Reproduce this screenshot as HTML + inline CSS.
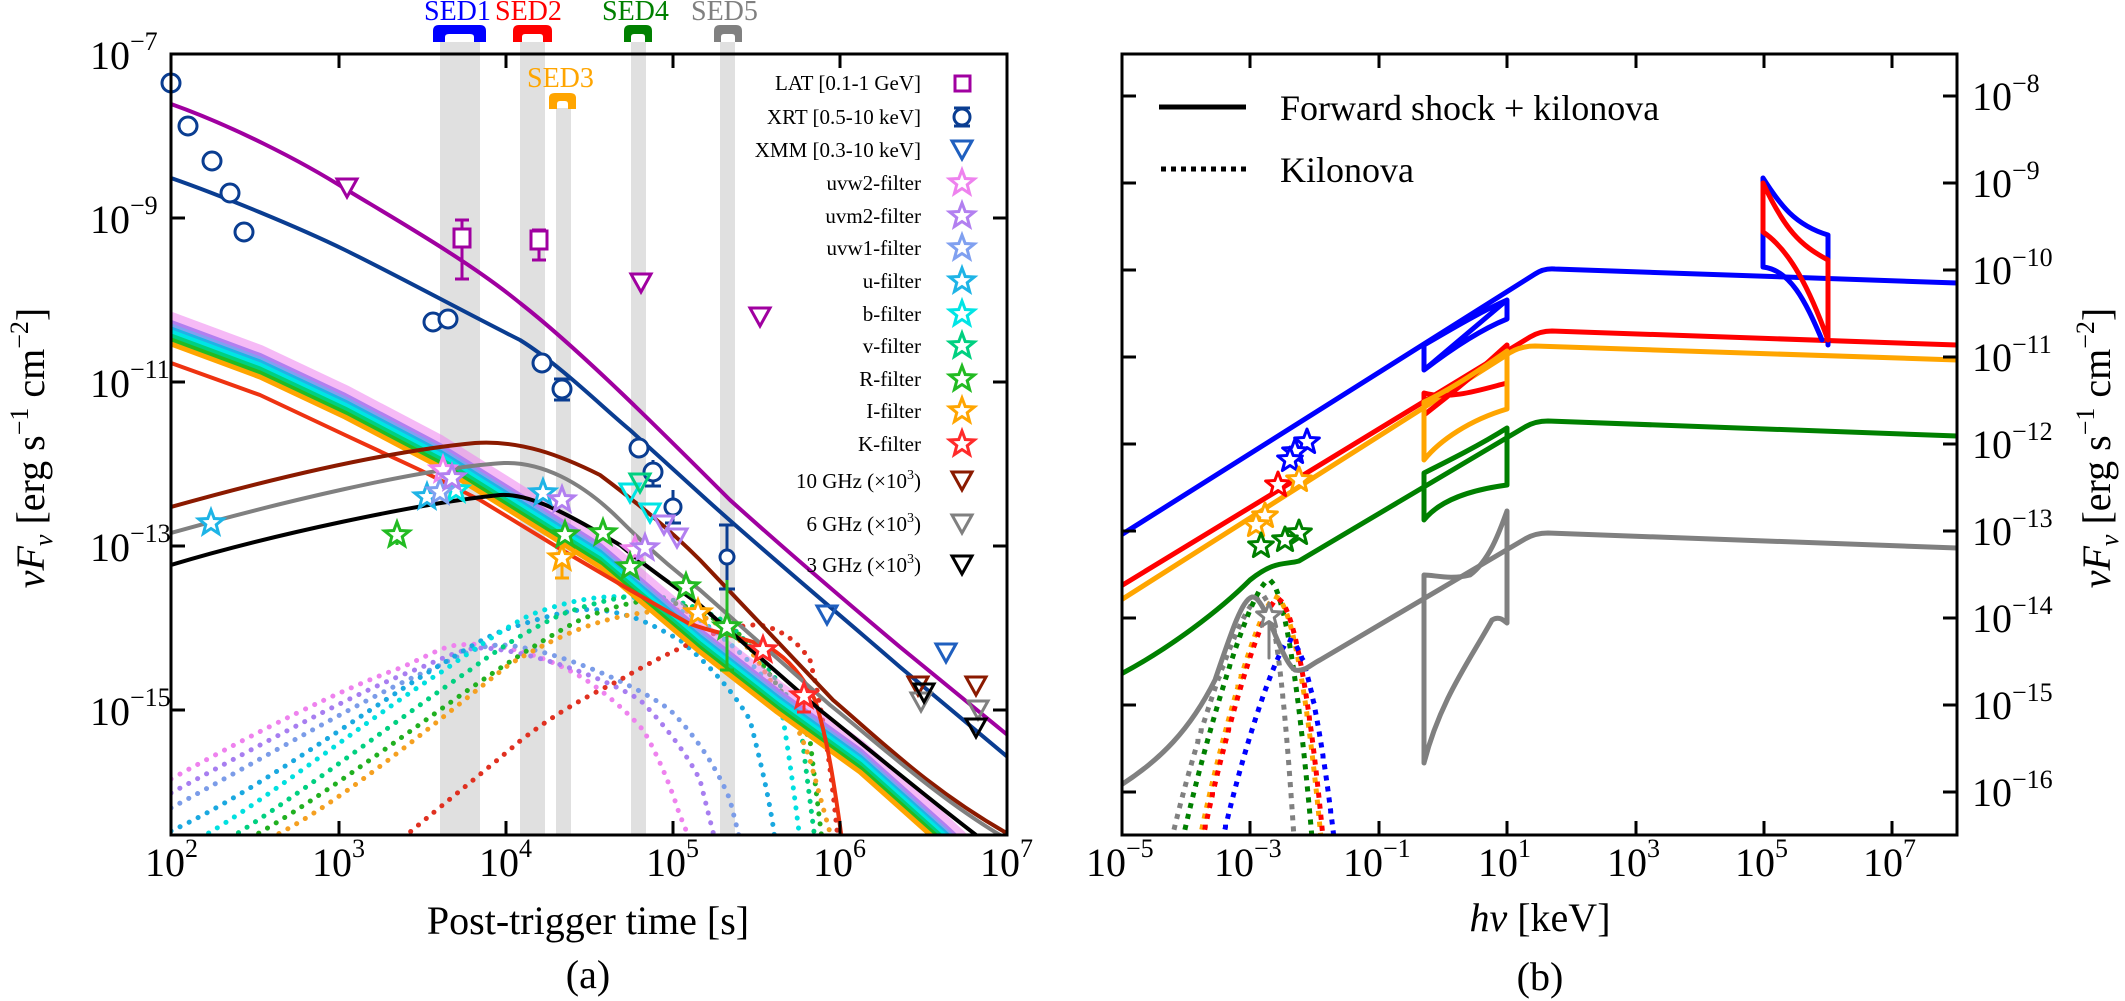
<!DOCTYPE html>
<html><head><meta charset="utf-8"><style>
html,body{margin:0;padding:0;background:#fff;}
svg{display:block;font-family:"Liberation Serif",serif;}
</style></head><body>
<svg width="2125" height="1001" viewBox="0 0 2125 1001" xmlns="http://www.w3.org/2000/svg">
<defs>
<clipPath id="cl"><rect x="171" y="54" width="836" height="781"/></clipPath>
<clipPath id="cr"><rect x="1122" y="54" width="835" height="781"/></clipPath>
<path id="st" d="M0,-13 L3.23,-4.45 L12.36,-4.02 L5.23,1.7 L7.64,10.52 L0,5.5 L-7.64,10.52 L-5.23,1.7 L-12.36,-4.02 L-3.23,-4.45Z"/>
<path id="tri" d="M-10,-9 L10,-9 L0,9 Z"/>
<path id="bund" d="M171,332 L260,365 L345,405 L440,455 L520,505 L600,555 L700,640 L777,700 L860,760 L944,835 L960,850"/>
</defs>

<g fill="#e0e0e0">
<rect x="440" y="42" width="40" height="793"/>
<rect x="520" y="42" width="25" height="793"/>
<rect x="556" y="108" width="15" height="727"/>
<rect x="631" y="42" width="15" height="793"/>
<rect x="720" y="42" width="15" height="793"/>
</g>
<g>
<path d="M433,42 L433,31 Q433,25 439,25 L480,25 Q486,25 486,31 L486,42 L474,42 L474,37 Q474,34 470,34 L449,34 Q445,34 445,37 L445,42Z" fill="#0000ff"/>
<path d="M513,42 L513,31 Q513,25 519,25 L546,25 Q552,25 552,31 L552,42 L543,42 L543,37 Q543,34 540,34 L525,34 Q522,34 522,37 L522,42Z" fill="#ff0000"/>
<path d="M549,109 L549,98 Q549,93 555,93 L570,93 Q576,93 576,98 L576,109 L568,109 L568,104 Q568,101 565,101 L560,101 Q557,101 557,104 L557,109Z" fill="#ffa500"/>
<path d="M624,42 L624,31 Q624,25 630,25 L646,25 Q652,25 652,31 L652,42 L645,42 L645,37 Q645,34 642,34 L634,34 Q631,34 631,37 L631,42Z" fill="#008000"/>
<path d="M714,42 L714,31 Q714,25 720,25 L736,25 Q742,25 742,31 L742,42 L735,42 L735,37 Q735,34 732,34 L724,34 Q721,34 721,37 L721,42Z" fill="#808080"/>
</g>
<g font-size="28">
<text x="424" y="20" fill="#0000ff">SED1</text>
<text x="495" y="20" fill="#ff0000">SED2</text>
<text x="602" y="20" fill="#008000">SED4</text>
<text x="691" y="20" fill="#808080">SED5</text>
<text x="527" y="87" fill="#ffa500">SED3</text>
</g>

<g clip-path="url(#cl)" fill="none" stroke-linejoin="round" stroke-linecap="round">
<g stroke-width="5" stroke-dasharray="0.1 10">
<path stroke="#ee82ee" d="M171,779 C260,730 340,690 400,668 C430,655 445,645 460,645 C500,640 560,660 596,687 C620,705 640,725 645,733 C660,760 672,790 679,813 L690,840"/>
<path stroke="#a77ef0" d="M171,793 C260,745 360,690 420,668 C450,655 465,648 480,648 C520,648 600,675 640,700 C670,730 690,760 700,780 L715,840"/>
<path stroke="#7b9ce8" d="M171,808 C260,760 380,690 430,670 C460,655 480,645 500,645 C540,645 630,680 670,710 C700,740 720,775 730,800 L740,840"/>
<path stroke="#1aa8e0" d="M171,831 C260,790 380,700 447,661 C480,640 500,630 520,625 C560,612 580,608 600,610 C640,615 660,630 680,640 C715,670 735,695 750,720 C760,760 770,800 775,840"/>
<path stroke="#00e0e0" d="M200,838 C260,805 380,710 443,671 C480,645 510,625 530,615 C570,600 600,595 630,597 C660,600 680,610 700,620 C740,650 765,675 780,700 C790,760 795,800 800,840"/>
<path stroke="#00d080" d="M230,838 C300,795 410,710 470,670 C510,640 540,625 560,615 C600,600 630,595 650,595 C680,600 710,612 730,625 C765,660 785,690 800,720 C806,770 810,800 815,840"/>
<path stroke="#20b020" d="M250,838 C320,800 430,715 490,675 C530,648 560,630 580,620 C615,605 640,600 660,600 C690,605 720,620 740,635 C775,680 795,710 810,740 L822,840"/>
<path stroke="#f5a020" d="M270,838 C340,805 450,710 510,664 C550,640 580,628 600,622 C630,613 660,610 680,610 C710,615 735,635 750,650 C785,700 800,730 810,760 L832,840"/>
<path stroke="#e03020" d="M403,838 C430,815 480,775 520,741 C560,710 590,695 620,680 C650,662 680,648 698,640 C720,630 745,624 760,625 C785,630 800,645 810,660 C825,720 832,780 838,840"/>
</g>
<use href="#bund" stroke="#ee82ee" stroke-width="14" opacity="0.55" transform="translate(0,-13)"/>
<use href="#bund" stroke="#b27ff0" stroke-width="6" transform="translate(0,-9)"/>
<use href="#bund" stroke="#80a0f0" stroke-width="5" transform="translate(0,-6)"/>
<use href="#bund" stroke="#1eb4e6" stroke-width="5" transform="translate(0,-3)"/>
<use href="#bund" stroke="#00e5e5" stroke-width="5" transform="translate(0,0)"/>
<use href="#bund" stroke="#00d080" stroke-width="5" transform="translate(0,4)"/>
<use href="#bund" stroke="#22bb22" stroke-width="5" transform="translate(0,8)"/>
<use href="#bund" stroke="#ffa500" stroke-width="5" transform="translate(0,12)"/>
<path stroke="#ee3311" stroke-width="4" d="M171,363 L260,395 L345,435 L420,470 L480,500 L562,550 L630,590 L688,623 C710,632 740,636 770,648 C790,660 805,680 815,700 C828,740 835,790 842,840"/>
<path stroke="#8b1a00" stroke-width="4" d="M171,507 C260,482 380,452 475,443 C520,440 560,455 600,475 C640,505 670,530 700,560 L833,700 C880,740 930,790 1010,835"/>
<path stroke="#808080" stroke-width="4" d="M171,533 C270,505 420,468 504,463 C540,462 580,480 620,520 C650,550 680,575 700,590 L830,705 C880,745 940,800 1005,838"/>
<path stroke="#000" stroke-width="4" d="M171,565 C270,535 420,503 500,495 C530,493 570,515 620,545 C650,570 680,590 700,605 L820,710 C870,750 930,800 980,838"/>
<path stroke="#a000a0" stroke-width="4" d="M171,104 C230,125 300,160 347,190 C400,222 470,262 520,303 C580,350 660,430 730,500 C780,545 850,605 900,647 L1010,737"/>
<path stroke="#0a3d91" stroke-width="4" d="M171,178 C220,195 300,228 345,250 C400,277 470,315 520,340 C560,365 600,405 630,430 L707,500 C760,548 840,615 900,667 L1010,759"/>
</g>

<g fill="none" stroke-width="3">
<g stroke="#0a3d91" fill="#fff">
<circle cx="171" cy="83" r="9"/><circle cx="188" cy="126" r="9"/><circle cx="212" cy="161" r="9"/><circle cx="230" cy="193" r="9"/><circle cx="244" cy="232" r="9"/>
<circle cx="433" cy="322" r="9"/><circle cx="448" cy="319" r="9"/><circle cx="542" cy="363" r="9"/>
<path d="M562,379 V400 M554,379 H570 M554,400 H570"/><circle cx="562" cy="389" r="9"/>
<path d="M639,438 V458 M653,460 V486 M645,486 H661"/><circle cx="639" cy="448" r="9"/><circle cx="653" cy="472" r="9"/>
<path d="M673,490 V523 M665,523 H681"/><circle cx="673" cy="507" r="8"/>
<path d="M727,525 V589 M719,525 H735 M719,589 H735"/><circle cx="727" cy="557" r="7"/>
</g>
<g stroke="#a000a0" fill="#fff">
<path d="M462,220 V279 M455,220 H469 M455,279 H469"/><rect x="454" y="229" width="16" height="18"/>
<path d="M539,230 V260 M532,230 H546 M532,260 H546"/><rect x="531" y="231" width="16" height="18"/>
<use href="#tri" x="347" y="188"/><use href="#tri" x="641" y="283"/><use href="#tri" x="760" y="317"/>
</g>
<g stroke="#1f5fbf"><use href="#tri" x="827" y="615"/><use href="#tri" x="946" y="653"/></g>
<g stroke="#8b1a00"><use href="#tri" x="918" y="686"/><use href="#tri" x="976" y="686"/></g>
<g stroke="#808080"><use href="#tri" x="921" y="702"/><use href="#tri" x="978" y="710"/></g>
<g stroke="#000"><use href="#tri" x="924" y="693"/><use href="#tri" x="976" y="728"/></g>
<g stroke="#00e5e5"><use href="#tri" x="630" y="493"/><use href="#tri" x="650" y="513"/></g>
<g stroke="#00d080"><use href="#tri" x="640" y="483"/></g>
<g stroke="#b27ff0"><use href="#tri" x="677" y="538"/><use href="#tri" x="664" y="525"/></g>
<g fill="#fff">
<use href="#st" x="211" y="523" stroke="#1eb4e6"/>
<path d="M397,525 V545" stroke="#22bb22"/><use href="#st" x="397" y="535" stroke="#22bb22"/>
<use href="#st" x="427" y="497" stroke="#1eb4e6"/><use href="#st" x="456" y="490" stroke="#00e5e5"/><use href="#st" x="440" y="492" stroke="#80a0f0"/>
<use href="#st" x="443" y="470" stroke="#ee82ee"/><use href="#st" x="452" y="478" stroke="#b27ff0"/>
<use href="#st" x="543" y="493" stroke="#1eb4e6"/><use href="#st" x="562" y="500" stroke="#b27ff0"/>
<path d="M562,550 V578 M555,578 H569" stroke="#ffa500"/><use href="#st" x="562" y="558" stroke="#ffa500"/>
<use href="#st" x="565" y="535" stroke="#22bb22"/><use href="#st" x="603" y="533" stroke="#22bb22"/>
<use href="#st" x="635" y="550" stroke="#ee82ee"/><use href="#st" x="645" y="548" stroke="#b27ff0"/>
<use href="#st" x="630" y="567" stroke="#22bb22"/><use href="#st" x="686" y="587" stroke="#22bb22"/>
<use href="#st" x="698" y="613" stroke="#ffa500"/>
<path d="M727,580 V670 M720,670 H734" stroke="#22bb22"/><use href="#st" x="727" y="627" stroke="#22bb22"/>
<use href="#st" x="763" y="650" stroke="#ff2a2a"/>
<path d="M804,685 V712 M797,712 H811" stroke="#ff2a2a"/><use href="#st" x="804" y="696" stroke="#ff2a2a"/>
</g>
</g>

<g font-size="21" text-anchor="end" fill="#000">
<text x="921" y="90">LAT [0.1-1 GeV]</text>
<text x="921" y="124">XRT [0.5-10 keV]</text>
<text x="921" y="157">XMM [0.3-10 keV]</text>
<text x="921" y="190">uvw2-filter</text>
<text x="921" y="223">uvm2-filter</text>
<text x="921" y="255">uvw1-filter</text>
<text x="921" y="288">u-filter</text>
<text x="921" y="321">b-filter</text>
<text x="921" y="353">v-filter</text>
<text x="921" y="386">R-filter</text>
<text x="921" y="418">I-filter</text>
<text x="921" y="451">K-filter</text>
<text x="921" y="488">10 GHz (×10<tspan dy="-9" font-size="14">3</tspan><tspan dy="9">)</tspan></text>
<text x="921" y="531">6 GHz (×10<tspan dy="-9" font-size="14">3</tspan><tspan dy="9">)</tspan></text>
<text x="921" y="572">3 GHz (×10<tspan dy="-9" font-size="14">3</tspan><tspan dy="9">)</tspan></text>
</g>
<g fill="#fff" stroke-width="3">
<rect x="955" y="76" width="15" height="15" stroke="#a000a0"/>
<path d="M954,108 H970 M954,126 H970 M962,108 V126" stroke="#0a3d91"/><circle cx="962" cy="117" r="8" stroke="#0a3d91"/>
<use href="#tri" x="962" y="150" stroke="#1f5fbf"/>
<use href="#st" x="962" y="183" stroke="#ee82ee"/>
<use href="#st" x="962" y="216" stroke="#b27ff0"/>
<use href="#st" x="962" y="248" stroke="#80a0f0"/>
<use href="#st" x="962" y="281" stroke="#1eb4e6"/>
<use href="#st" x="962" y="314" stroke="#00e5e5"/>
<use href="#st" x="962" y="346" stroke="#00d080"/>
<use href="#st" x="962" y="379" stroke="#22bb22"/>
<use href="#st" x="962" y="411" stroke="#ffa500"/>
<use href="#st" x="962" y="444" stroke="#ff2a2a"/>
<use href="#tri" x="962" y="481" stroke="#8b1a00"/>
<use href="#tri" x="962" y="524" stroke="#808080"/>
<use href="#tri" x="962" y="565" stroke="#000"/>
</g>

<g stroke="#000" stroke-width="3" fill="none">
<rect x="171" y="54" width="836" height="781"/>
<path d="M339,835 v-14 M506,835 v-14 M673,835 v-14 M840,835 v-14 M339,54 v14 M506,54 v14 M673,54 v14 M840,54 v14"/>
<path d="M171,218 h14 M171,382 h14 M171,546 h14 M171,710 h14 M1007,218 h-14 M1007,382 h-14 M1007,546 h-14 M1007,710 h-14"/>
</g>
<g font-size="40" fill="#000">
<g text-anchor="end">
<text x="130" y="69">10</text><text x="130" y="233">10</text><text x="130" y="397">10</text><text x="130" y="561">10</text><text x="130" y="725">10</text>
</g>
<g font-size="26">
<text x="130" y="50">−7</text><text x="130" y="214">−9</text><text x="130" y="378">−11</text><text x="130" y="542">−13</text><text x="130" y="706">−15</text>
</g>
<g text-anchor="middle">
<text x="165" y="876">10</text><text x="332" y="876">10</text><text x="499" y="876">10</text><text x="666" y="876">10</text><text x="833" y="876">10</text><text x="1000" y="876">10</text>
</g>
<g font-size="26">
<text x="185" y="857">2</text><text x="352" y="857">3</text><text x="519" y="857">4</text><text x="686" y="857">5</text><text x="853" y="857">6</text><text x="1020" y="857">7</text>
</g>
<text x="588" y="934" text-anchor="middle">Post-trigger time [s]</text>
<text x="588" y="988" text-anchor="middle">(a)</text>
<text transform="translate(44,448) rotate(-90)" text-anchor="middle"><tspan font-style="italic">νF</tspan><tspan font-style="italic" font-size="26" dy="8">ν</tspan><tspan dy="-8"> [erg s</tspan><tspan font-size="26" dy="-16">−1</tspan><tspan dy="16"> cm</tspan><tspan font-size="26" dy="-16">−2</tspan><tspan dy="16">]</tspan></text>
</g>

<g clip-path="url(#cr)" fill="none" stroke-linejoin="round" stroke-linecap="round">
<g stroke-width="5" stroke-dasharray="0.1 11" stroke-linecap="square">
<path stroke="#808080" d="M1172,838 C1195,740 1240,600 1262,595 C1275,600 1285,700 1294,838"/>
<path stroke="#008000" d="M1183,838 C1205,740 1250,585 1269,580 C1285,585 1300,700 1312,838"/>
<path stroke="#ffa500" d="M1200,838 C1220,740 1260,600 1276,597 C1292,602 1308,700 1321,838"/>
<path stroke="#ff0000" d="M1203,838 C1223,740 1262,602 1278,599 C1294,604 1310,700 1323,838"/>
<path stroke="#0000ff" d="M1223,838 C1245,740 1280,640 1290,640 C1305,645 1320,720 1334,838"/>
</g>
<g stroke-width="5">
<path stroke="#0000ff" d="M1121,535 L1535,274 Q1544,268 1555,269 L1957,283"/>
<path stroke="#ff0000" d="M1121,586 L1530,337 Q1540,331 1552,331 L1957,345"/>
<path stroke="#ffa500" d="M1121,600 L1505,356 Q1518,346 1535,346 L1957,360"/>
<path stroke="#008000" d="M1121,674 C1170,648 1220,610 1250,580 C1275,560 1285,565 1299,561 L1525,427 Q1535,421 1548,421 L1957,436"/>
<path stroke="#808080" d="M1121,785 C1160,760 1190,730 1215,680 C1232,630 1242,600 1252,597 C1265,595 1280,660 1295,670 C1305,672 1310,665 1320,660 L1525,539 Q1535,533 1548,533 L1957,548"/>
<path stroke="#0000ff" d="M1424,345 L1424,370 C1450,350 1480,330 1507,319 L1507,300 C1480,312 1450,330 1424,345 Z M1424,370 L1507,300"/>
<path stroke="#ff0000" d="M1424,393 L1424,415 C1450,395 1480,370 1507,345 L1507,383 C1480,390 1450,400 1424,393 Z"/>
<path stroke="#ffa500" d="M1424,402 L1424,460 C1440,440 1470,420 1507,409 L1507,351 C1480,370 1450,390 1424,402 Z"/>
<path stroke="#008000" d="M1424,473 L1424,520 C1440,500 1470,490 1507,485 L1507,428 C1480,445 1450,460 1424,473 Z"/>
<path stroke="#808080" d="M1424,575 L1424,763 C1440,700 1470,660 1492,620 C1500,615 1505,622 1507,623 L1507,511 C1500,530 1490,560 1470,575 C1450,580 1435,575 1424,575 Z"/>
<path stroke="#0000ff" d="M1763,178 L1763,267 C1790,270 1805,300 1822,340 M1763,178 C1780,205 1795,225 1828,235 L1828,345"/>
<path stroke="#ff0000" d="M1763,183 L1763,232 C1790,250 1810,290 1828,340 L1828,260 C1800,245 1785,230 1763,183 Z"/>
</g>
<g fill="#fff" stroke-width="3">
<use href="#st" x="1307" y="442" stroke="#0000ff"/><use href="#st" x="1295" y="452" stroke="#0000ff"/><use href="#st" x="1290" y="460" stroke="#0000ff"/>
<use href="#st" x="1278" y="485" stroke="#ff0000"/>
<use href="#st" x="1299" y="480" stroke="#ffa500"/><use href="#st" x="1265" y="516" stroke="#ffa500"/><use href="#st" x="1256" y="525" stroke="#ffa500"/>
<use href="#st" x="1261" y="546" stroke="#008000"/><use href="#st" x="1299" y="533" stroke="#008000"/><use href="#st" x="1285" y="540" stroke="#008000"/>
<path d="M1269,616 V658" stroke="#808080"/><use href="#st" x="1269" y="616" stroke="#808080"/>
</g>
</g>

<path d="M1159,107 H1246" stroke="#000" stroke-width="5"/>
<path d="M1161,169 H1246" stroke="#000" stroke-width="5" stroke-dasharray="5 5"/>
<g font-size="36" fill="#000">
<text x="1280" y="120">Forward shock + kilonova</text>
<text x="1280" y="182">Kilonova</text>
</g>

<g stroke="#000" stroke-width="3" fill="none">
<rect x="1122" y="54" width="835" height="781"/>
<path d="M1250,835 v-14 M1379,835 v-14 M1507,835 v-14 M1636,835 v-14 M1764,835 v-14 M1892,835 v-14"/>
<path d="M1250,54 v14 M1379,54 v14 M1507,54 v14 M1636,54 v14 M1764,54 v14 M1892,54 v14"/>
<path d="M1957,96 h-14 M1957,183 h-14 M1957,270 h-14 M1957,357 h-14 M1957,444 h-14 M1957,531 h-14 M1957,618 h-14 M1957,705 h-14 M1957,792 h-14"/>
<path d="M1122,96 h14 M1122,183 h14 M1122,270 h14 M1122,357 h14 M1122,444 h14 M1122,531 h14 M1122,618 h14 M1122,705 h14 M1122,792 h14"/>
</g>
<g font-size="40" fill="#000">
<text x="1972" y="110">10<tspan font-size="26" dy="-18">−8</tspan></text>
<text x="1972" y="197">10<tspan font-size="26" dy="-18">−9</tspan></text>
<text x="1972" y="284">10<tspan font-size="26" dy="-18">−10</tspan></text>
<text x="1972" y="371">10<tspan font-size="26" dy="-18">−11</tspan></text>
<text x="1972" y="458">10<tspan font-size="26" dy="-18">−12</tspan></text>
<text x="1972" y="545">10<tspan font-size="26" dy="-18">−13</tspan></text>
<text x="1972" y="632">10<tspan font-size="26" dy="-18">−14</tspan></text>
<text x="1972" y="719">10<tspan font-size="26" dy="-18">−15</tspan></text>
<text x="1972" y="806">10<tspan font-size="26" dy="-18">−16</tspan></text>
<text x="1086" y="876">10<tspan font-size="26" dy="-19">−5</tspan></text>
<text x="1214" y="876">10<tspan font-size="26" dy="-19">−3</tspan></text>
<text x="1343" y="876">10<tspan font-size="26" dy="-19">−1</tspan></text>
<text x="1478" y="876">10<tspan font-size="26" dy="-19">1</tspan></text>
<text x="1607" y="876">10<tspan font-size="26" dy="-19">3</tspan></text>
<text x="1735" y="876">10<tspan font-size="26" dy="-19">5</tspan></text>
<text x="1863" y="876">10<tspan font-size="26" dy="-19">7</tspan></text>
<text x="1540" y="931" text-anchor="middle"><tspan font-style="italic">hν</tspan> [keV]</text>
<text x="1540" y="990" text-anchor="middle">(b)</text>
<text transform="translate(2110,448) rotate(-90)" text-anchor="middle"><tspan font-style="italic">νF</tspan><tspan font-style="italic" font-size="26" dy="8">ν</tspan><tspan dy="-8"> [erg s</tspan><tspan font-size="26" dy="-16">−1</tspan><tspan dy="16"> cm</tspan><tspan font-size="26" dy="-16">−2</tspan><tspan dy="16">]</tspan></text>
</g>
</svg>
</body></html>
